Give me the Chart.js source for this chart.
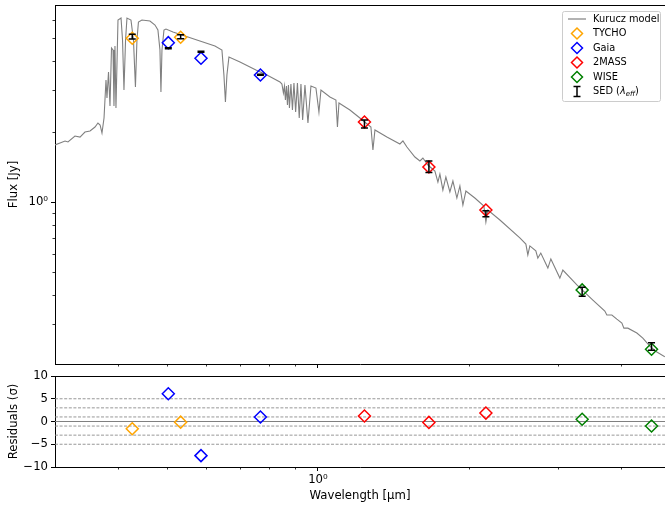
<!DOCTYPE html>
<html>
<head>
<meta charset="utf-8">
<script src="https://cdn.jsdelivr.net/npm/chart.js@4.4.1/dist/chart.umd.min.js"></script>
<style>
  body { margin: 0; background: #fff; overflow: hidden; }
  canvas { position: absolute; left: 0; }
</style>
</head>
<body>
<canvas id="sedChart" width="665" height="372" style="top:0"></canvas>
<canvas id="resChart" width="665" height="136" style="top:370px"></canvas>
<script>
// Kurucz model spectrum (wavelength in um, flux in Jy)
const modelWave = [0.300, 0.3070, 0.3141, 0.3184, 0.3287, 0.3364, 0.3441, 0.3522, 0.3603, 0.3652,
  0.3688, 0.3720, 0.3755, 0.3789, 0.3806, 0.3833, 0.3859, 0.3886, 0.3913, 0.3930,
  0.3948, 0.3966, 0.4003, 0.4059, 0.4087, 0.4114, 0.4144, 0.4171, 0.4248, 0.4297,
  0.4336, 0.4366, 0.4396, 0.4467, 0.4634, 0.4742, 0.4806, 0.4851, 0.4873, 0.4896,
  0.4941, 0.4987, 0.5149, 0.5440, 0.5825, 0.6240, 0.6443, 0.6502, 0.6547, 0.6592,
  0.6653, 0.6998, 0.7528, 0.7918, 0.8404, 0.8480, 0.8538, 0.8578, 0.8617, 0.8657,
  0.8697, 0.8737, 0.8777, 0.8837, 0.8899, 0.8960, 0.9030, 0.9104, 0.9180, 0.9252,
  0.9324, 0.9423, 0.9553, 0.9685, 0.9909, 1.0046, 1.0139, 1.0565, 1.0859, 1.0934,
  1.1011, 1.1577, 1.2119, 1.2456, 1.2746, 1.2864, 1.2983, 1.3713, 1.4555, 1.4758,
  1.5030, 1.5590, 1.5952, 1.6172, 1.6547, 1.7085, 1.7322, 1.7480, 1.7721, 1.7966,
  1.8298, 1.8553, 1.8893, 1.9156, 1.9422, 1.9689, 2.0514, 2.1380, 2.1577, 2.1777,
  2.3007, 2.5207, 2.5913, 2.6148, 2.6389, 2.7121, 2.7374, 2.7746, 2.8660, 2.9054,
  3.0275, 3.0694, 3.2733, 3.5217, 3.7199, 3.7545, 3.8417, 3.9305, 4.0221, 4.0591,
  4.1343, 4.3074, 4.4271, 4.5709, 4.7206, 4.8969];
const modelFlux = [1.753, 1.787, 1.823, 1.805, 1.914, 1.895, 1.991, 2.011, 2.092, 2.176,
  2.134, 1.972, 2.286, 3.322, 2.783, 3.594, 2.572, 4.552, 4.463, 2.572,
  4.642, 2.522, 5.995, 6.114, 4.924, 3.011, 4.924, 6.114, 5.995, 4.924,
  3.101, 4.924, 5.878, 5.995, 5.936, 5.707, 5.433, 4.463, 2.952, 4.463,
  5.433, 5.487, 5.327, 5.122, 4.876, 4.642, 4.463, 3.489, 2.675, 3.489,
  4.165, 3.965, 3.665, 3.489, 3.258, 3.194, 2.923, 3.131, 2.729, 3.131,
  2.597, 3.162, 2.522, 3.194, 2.473, 3.226, 2.424, 3.226, 2.286, 3.194,
  2.241, 3.162, 2.176, 3.131, 3.070, 2.424, 3.011, 2.810, 2.729, 2.092,
  2.649, 2.473, 2.286, 2.176, 2.092, 1.668, 2.031, 1.895, 1.770, 1.823,
  1.718, 1.557, 1.497, 1.542, 1.439, 1.357, 1.217, 1.317, 1.126, 1.279,
  1.104, 1.229, 1.040, 1.171, 0.971, 1.114, 1.040, 0.961, 0.821, 0.924,
  0.838, 0.702, 0.661, 0.594, 0.649, 0.618, 0.576, 0.605, 0.522, 0.571,
  0.473, 0.512, 0.442, 0.381, 0.342, 0.329, 0.329, 0.316, 0.304, 0.289,
  0.289, 0.2756, 0.262, 0.242, 0.2286, 0.218];

// synthetic photometry per survey
const tychoWave = [0.4273, 0.5333];
const tychoFlux = [5.007, 5.057];
const tychoRes = [-1.6, -0.15];
const gaiaWave = [0.5040, 0.5854, 0.7685];
const gaiaFlux = [4.796, 4.113, 3.489];
const gaiaRes = [6.1, -7.5, 1.0];
const tmassWave = [1.2374, 1.6622, 2.1577];
const tmassFlux = [2.197, 1.411, 0.924];
const tmassRes = [1.2, -0.2, 1.85];
const wiseWave = [3.353, 4.607];
const wiseFlux = [0.421, 0.2347];
const wiseRes = [0.5, -1.0];

// observed SED at effective wavelengths
const sedWave = [0.4273, 0.5040, 0.5333, 0.5854, 0.7685, 1.2374, 1.6622, 2.1577, 3.353, 4.607];
const sedFlux = [5.087, 4.538, 5.09, 4.388, 3.50, 2.154, 1.418, 0.891, 0.4137, 0.2416];
const sedErr = [0.12, 0.02, 0.10, 0.02, 0.015, 0.085, 0.08, 0.027, 0.018, 0.009];

const waveTicks = [0.4, 0.5, 0.6, 0.7, 0.8, 0.9, 1, 2, 3, 4];
const fluxTicks = [0.3, 0.4, 0.5, 0.6, 0.7, 0.8, 0.9, 1, 2, 3, 4, 5, 6];
const sigmaLevels = [-5, -3, -1, 1, 3, 5];

const FONT = 'DejaVu Sans';
Chart.defaults.font.family = FONT;
Chart.defaults.font.size = 11.7;
Chart.defaults.color = '#000';
Chart.defaults.animation = false;

function pts(xs, ys) {
  return xs.map((x, i) => ({ x: x, y: ys[i] }));
}

const powLabel = v => (v === 1 ? '10\u2070' : '');
const isLogMinor = (scale, v) => scale.type === 'logarithmic' && v !== 1;

function noPad(s) {
  s.paddingTop = 0; s.paddingBottom = 0; s.paddingLeft = 0; s.paddingRight = 0;
}

function diamonds(label, color, xs, ys) {
  return {
    label: label, data: pts(xs, ys),
    pointStyle: 'rectRot', pointRadius: 6, pointBorderWidth: 1.5,
    borderColor: color, backgroundColor: 'rgba(0,0,0,0)', order: 2
  };
}

function waveAxis(bottomPanel) {
  return {
    type: 'logarithmic', min: 0.3, max: 4.9, bounds: 'data',
    afterBuildTicks: s => { s.ticks = waveTicks.map(v => ({ value: v })); },
    afterFit: s => { s.height = bottomPanel ? 39 : 8; noPad(s); },
    ticks: { display: bottomPanel, autoSkip: false, maxRotation: 0, padding: 2, callback: powLabel },
    grid: {
      drawOnChartArea: false, tickLength: 4,
      tickColor: c => (c.tick && c.tick.value !== 1 ? 'rgba(0,0,0,0)' : '#000')
    },
    border: { color: '#000', width: 1 },
    title: { display: bottomPanel, text: 'Wavelength [\u03bcm]', padding: { top: 0, bottom: 3 } }
  };
}

// short minor ticks on the log axes, top spine
const frame = {
  id: 'frame',
  afterDraw(chart) {
    const ctx = chart.ctx;
    const a = chart.chartArea;
    ctx.save();
    ctx.strokeStyle = '#000';
    ctx.lineWidth = 1;
    ctx.beginPath();
    ctx.moveTo(a.left, a.top + 0.5);
    ctx.lineTo(a.right, a.top + 0.5);
    ctx.stroke();
    ctx.lineWidth = 0.8;
    Object.values(chart.scales).forEach(s => {
      s.ticks.forEach(t => {
        if (!isLogMinor(s, t.value)) return;
        const p = Math.round(s.getPixelForValue(t.value)) + 0.5;
        ctx.beginPath();
        if (s.axis === 'x') { ctx.moveTo(p, a.bottom); ctx.lineTo(p, a.bottom + 2.5); }
        else { ctx.moveTo(a.left, p); ctx.lineTo(a.left - 2.5, p); }
        ctx.stroke();
      });
    });
    ctx.restore();
  }
};

const errorBars = {
  id: 'errorBars',
  afterDatasetsDraw(chart) {
    const ds = chart.data.datasets.find(d => d.errors);
    if (!ds) return;
    const ctx = chart.ctx, xs = chart.scales.x, ys = chart.scales.y;
    ctx.save();
    ctx.strokeStyle = '#000';
    ctx.lineWidth = 1.5;
    ds.data.forEach((p, i) => {
      const px = xs.getPixelForValue(p.x);
      const top = ys.getPixelForValue(p.y + ds.errors[i]);
      const bot = ys.getPixelForValue(p.y - ds.errors[i]);
      ctx.beginPath();
      ctx.moveTo(px, top); ctx.lineTo(px, bot);
      ctx.moveTo(px - 3.5, top); ctx.lineTo(px + 3.5, top);
      ctx.moveTo(px - 3.5, bot); ctx.lineTo(px + 3.5, bot);
      ctx.stroke();
    });
    ctx.restore();
  }
};

function diamondPath(ctx, x, y, r) {
  ctx.beginPath();
  ctx.moveTo(x - r, y); ctx.lineTo(x, y - r); ctx.lineTo(x + r, y); ctx.lineTo(x, y + r);
  ctx.closePath();
}

const boxLegend = {
  id: 'boxLegend',
  afterDraw(chart) {
    const ctx = chart.ctx, a = chart.chartArea;
    const w = 98, h = 90, right = a.right - 5, top = a.top + 6, left = right - w;
    ctx.save();
    ctx.fillStyle = 'rgba(255,255,255,0.8)';
    ctx.strokeStyle = '#cccccc';
    ctx.lineWidth = 1;
    ctx.beginPath();
    ctx.roundRect(left + 0.5, top + 0.5, w, h, 2);
    ctx.fill(); ctx.stroke();
    ctx.font = '9.8px "' + FONT + '"';
    ctx.textBaseline = 'middle';
    const ix = left + 15, tx = left + 31;
    chart.data.datasets.forEach((d, i) => {
      const y = top + 8 + i * 14.5;
      ctx.fillStyle = '#000';
      if (d.showLine) {
        ctx.strokeStyle = d.borderColor; ctx.lineWidth = 1.2;
        ctx.beginPath(); ctx.moveTo(ix - 9, y); ctx.lineTo(ix + 9, y); ctx.stroke();
        ctx.fillText(d.label, tx, y);
      } else if (d.errors) {
        ctx.strokeStyle = '#000'; ctx.lineWidth = 1.5;
        ctx.beginPath();
        ctx.moveTo(ix, y - 5); ctx.lineTo(ix, y + 5);
        ctx.moveTo(ix - 3.5, y - 5); ctx.lineTo(ix + 3.5, y - 5);
        ctx.moveTo(ix - 3.5, y + 5); ctx.lineTo(ix + 3.5, y + 5);
        ctx.stroke();
        let x = tx;
        ctx.fillText('SED (', x, y); x += ctx.measureText('SED (').width;
        ctx.font = 'italic 9.8px "' + FONT + '"';
        ctx.fillText('\u03bb', x, y); x += ctx.measureText('\u03bb').width;
        ctx.font = 'italic 7px "' + FONT + '"';
        ctx.fillText('eff', x, y + 2.5); x += ctx.measureText('eff').width;
        ctx.font = '9.8px "' + FONT + '"';
        ctx.fillText(')', x, y);
      } else {
        ctx.strokeStyle = d.borderColor; ctx.lineWidth = 1.5;
        diamondPath(ctx, ix, y, 5.5); ctx.stroke();
        ctx.fillText(d.label, tx, y);
      }
    });
    ctx.restore();
  }
};

const sigmaGuides = {
  id: 'sigmaGuides',
  beforeDatasetsDraw(chart) {
    const ctx = chart.ctx, a = chart.chartArea, ys = chart.scales.y;
    ctx.save();
    ctx.strokeStyle = '#8c8c8c';
    ctx.lineWidth = 0.9;
    ctx.setLineDash([3, 1.6]);
    sigmaLevels.forEach(v => {
      const p = ys.getPixelForValue(v);
      ctx.beginPath(); ctx.moveTo(a.left, p); ctx.lineTo(a.right, p); ctx.stroke();
    });
    ctx.setLineDash([]);
    ctx.strokeStyle = '#808080';
    ctx.lineWidth = 1.1;
    const z = ys.getPixelForValue(0);
    ctx.beginPath(); ctx.moveTo(a.left, z); ctx.lineTo(a.right, z); ctx.stroke();
    ctx.restore();
  }
};

new Chart(document.getElementById('sedChart'), {
  type: 'scatter',
  data: {
    datasets: [
      { label: 'Kurucz model', data: pts(modelWave, modelFlux), showLine: true, pointRadius: 0,
        borderColor: '#808080', borderWidth: 1.1, tension: 0, order: 5 },
      diamonds('TYCHO', '#ffa500', tychoWave, tychoFlux),
      diamonds('Gaia', '#0000ff', gaiaWave, gaiaFlux),
      diamonds('2MASS', '#ff0000', tmassWave, tmassFlux),
      diamonds('WISE', '#008000', wiseWave, wiseFlux),
      { label: 'SED (\u03bb_eff)', data: pts(sedWave, sedFlux), errors: sedErr, pointRadius: 0, order: 1 }
    ]
  },
  options: {
    responsive: false,
    layout: { autoPadding: false, padding: { top: 5, left: 0, right: 0, bottom: 0 } },
    plugins: { legend: { display: false }, tooltip: { enabled: false } },
    scales: {
      x: waveAxis(false),
      y: {
        type: 'logarithmic', min: 0.2031, max: 6.949, bounds: 'data',
        afterBuildTicks: s => { s.ticks = fluxTicks.map(v => ({ value: v })); },
        afterFit: s => { s.width = 55; noPad(s); },
        ticks: { autoSkip: false, padding: 3, callback: powLabel },
        grid: {
          drawOnChartArea: false, tickLength: 4,
          tickColor: c => (c.tick && c.tick.value !== 1 ? 'rgba(0,0,0,0)' : '#000')
        },
        border: { color: '#000', width: 1 },
        title: { display: true, text: 'Flux [Jy]', padding: { top: 7, bottom: 0 } }
      }
    }
  },
  plugins: [frame, errorBars, boxLegend]
});

new Chart(document.getElementById('resChart'), {
  type: 'scatter',
  data: {
    datasets: [
      diamonds('TYCHO', '#ffa500', tychoWave, tychoRes),
      diamonds('Gaia', '#0000ff', gaiaWave, gaiaRes),
      diamonds('2MASS', '#ff0000', tmassWave, tmassRes),
      diamonds('WISE', '#008000', wiseWave, wiseRes)
    ]
  },
  options: {
    responsive: false,
    layout: { autoPadding: false, padding: { top: 6, left: 0, right: 0, bottom: 0 } },
    plugins: { legend: { display: false }, tooltip: { enabled: false } },
    scales: {
      x: waveAxis(true),
      y: {
        type: 'linear', min: -10, max: 10,
        afterFit: s => { s.width = 55; noPad(s); },
        ticks: { stepSize: 5, padding: 3, callback: v => (v < 0 ? '\u2212' + Math.abs(v) : String(v)) },
        grid: { drawOnChartArea: false, tickLength: 4, tickColor: '#000' },
        border: { color: '#000', width: 1 },
        title: { display: true, text: 'Residuals (\u03c3)', padding: { top: 7, bottom: 0 } }
      }
    }
  },
  plugins: [frame, sigmaGuides]
});
</script>
</body>
</html>
